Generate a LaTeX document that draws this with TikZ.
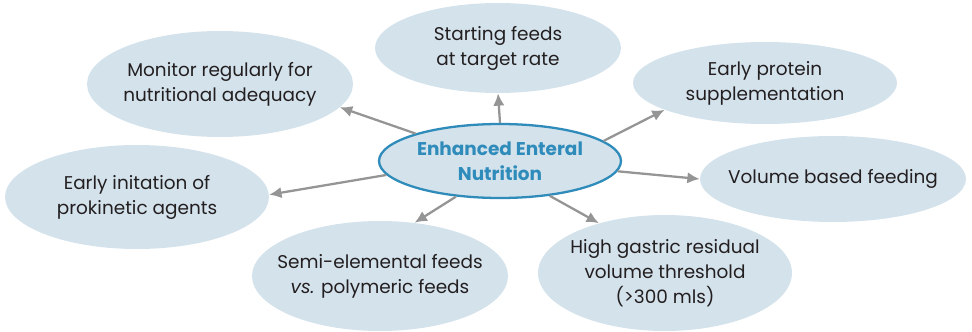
\documentclass[tikz,border=0pt]{standalone}
\usepackage{fontspec}
\setmainfont{Poppins}[Ligatures=NoCommon]
\usetikzlibrary{shapes.geometric,arrows.meta}
\definecolor{bubble}{HTML}{D4E2EC}
\definecolor{hub}{HTML}{2E8BBA}
\definecolor{link}{HTML}{959595}
\definecolor{ink}{HTML}{231F20}
\begin{document}
\begin{tikzpicture}[x=0.02cm,y=-0.02cm,
  bub/.style={ellipse,fill=bubble,inner sep=0pt},
  txt/.style={align=center,text=ink,inner sep=0pt,font=\fontsize{10.5}{14.2}\selectfont},
  hubnode/.style={ellipse,fill=bubble,draw=hub,line width=1.3pt,inner sep=0pt},
  hubtxt/.style={align=center,text=hub,inner sep=0pt,font=\fontsize{10.5}{14.2}\selectfont\bfseries},
  conn/.style={draw=link,line width=1.3pt,-{Latex[length=7pt,width=6.5pt]}}]
\useasboundingbox (0,0) rectangle (972,331);
\node[hubnode,minimum width=4.84cm,minimum height=1.48cm] (c) at (500,161) {};
\node[hubtxt] (ct) at (c.center) {Enhanced Enteral\\Nutrition};
\node[bub,minimum width=5.32cm,minimum height=2.12cm] (mon) at (220,84) {};
\node[txt] (mont) at (mon.center) {Monitor regularly for\\nutritional adequacy};
\node[bub,minimum width=4.92cm,minimum height=1.80cm] (sta) at (498,48) {};
\node[txt] (stat) at (sta.center) {Starting feeds\\at target rate};
\node[bub,minimum width=5.28cm,minimum height=1.64cm] (pro) at (765,83) {};
\node[txt] (prot) at (pro.center) {Early protein\\supplementation};
\node[bub,minimum width=5.32cm,minimum height=1.72cm] (vol) at (833,179) {};
\node[txt] (volt) at (vol.center) {Volume based feeding};
\node[bub,minimum width=5.08cm,minimum height=2.32cm] (gas) at (665,273) {};
\node[txt] (gast) at (gas.center) {High gastric residual\\volume threshold\\(>300 mls)};
\node[bub,minimum width=5.12cm,minimum height=2.20cm] (sem) at (380,276) {};
\node[txt] (semt) at (sem.center) {Semi-elemental feeds\\\textit{vs.} polymeric feeds};
\node[bub,minimum width=5.28cm,minimum height=2.08cm] (ini) at (137,197) {};
\node[txt] (init) at (ini.center) {Early initation of\\prokinetic agents};
\draw[conn] (c.162) -- (mon.-11);
\draw[conn] (c.north) -- (sta.south);
\draw[conn] (c.11) -- (pro.195);
\draw[conn] (c.-5) -- (vol.180);
\draw[conn] (c.-35) -- (gas.143);
\draw[conn] (c.-141) -- (sem.57);
\draw[conn] (c.187) -- (ini.1);
\end{tikzpicture}
\end{document}
